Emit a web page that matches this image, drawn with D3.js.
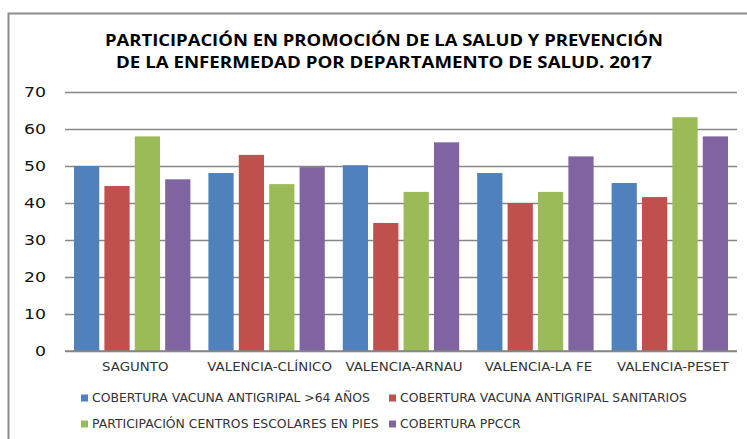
<!DOCTYPE html>
<html>
<head>
<meta charset="utf-8">
<script src="https://cdn.jsdelivr.net/npm/d3@7"></script>
<style>
  body { margin: 0; background: #fff; }
  svg { display: block; }
</style>
</head>
<body>
<script>
// data
var departamentos = ["SAGUNTO", "VALENCIA-CLÍNICO", "VALENCIA-ARNAU", "VALENCIA-LA FE", "VALENCIA-PESET"];
var series = [
  "COBERTURA VACUNA ANTIGRIPAL >64 AÑOS",
  "COBERTURA VACUNA ANTIGRIPAL SANITARIOS",
  "PARTICIPACIÓN CENTROS ESCOLARES EN PIES",
  "COBERTURA PPCCR"
];
var vacunaMayores = [50, 48.1, 50.2, 48.1, 45.4];
var vacunaSanitarios = [44.6, 53, 34.6, 40, 41.6];
var centrosPies = [58, 45.1, 43, 43, 63.2];
var ppccr = [46.4, 49.7, 56.4, 52.6, 58];
var yTicks = [0, 10, 20, 30, 40, 50, 60, 70];
var titulo = [
  "PARTICIPACIÓN EN PROMOCIÓN DE LA SALUD Y PREVENCIÓN",
  "DE LA ENFERMEDAD POR DEPARTAMENTO DE SALUD. 2017"
];

var colores = ["#4F81BD", "#C0504D", "#9BBB59", "#8064A2"];
var valores = [vacunaMayores, vacunaSanitarios, centrosPies, ppccr];

var width = 747, height = 439;
var svg = d3.select("body").append("svg").attr("width", width).attr("height", height);

//chart frame (cut off on right and bottom)
svg.append("rect").attr("x", 8.5).attr("y", 13.5).attr("width", 760).attr("height", 460)
  .style("fill", "none").style("stroke", "#8c8c8c").style("stroke-width", 2);

//title
svg.selectAll(".titulo").data(titulo).enter().append("text")
  .attr("class", "titulo")
  .attr("x", 384).attr("y", function(d, i) { return 46 + i * 22; })
  .attr("text-anchor", "middle")
  .attr("textLength", function(d, i) { return i == 0 ? 558 : 536; })
  .attr("lengthAdjust", "spacingAndGlyphs")
  .style("font-family", "'Open Sans', sans-serif").style("font-weight", "bold")
  .style("font-size", "15.5px").style("fill", "#000")
  .text(function(d) { return d; });

var x0 = d3.scaleBand().domain(departamentos).range([65, 737]).padding(0);
var x1 = d3.scaleBand().domain(series).range([9, x0.bandwidth() - 9]).paddingInner(0.17).paddingOuter(0);
var y = d3.scaleLinear().domain([0, 70]).range([351, 92]);

//grid lines
var yAxis = d3.axisLeft(y).tickValues(yTicks).tickSize(-(737 - 65)).tickPadding(19);
var gy = svg.append("g").attr("transform", "translate(65,0)").call(yAxis);
gy.select(".domain").remove();
gy.selectAll(".tick line").style("stroke", "#868686").style("stroke-width", 1.5);
gy.selectAll(".tick text")
  .style("font-family", "'DejaVu Sans', sans-serif").style("font-size", "14px").style("fill", "#111")
  .attr("textLength", function(d) { return String(d).length * 11; })
  .attr("lengthAdjust", "spacingAndGlyphs");

//bars
var grupos = svg.selectAll(".grupo").data(departamentos).enter().append("g")
  .attr("class", "grupo")
  .attr("transform", function(d) { return "translate(" + x0(d) + ",0)"; });

grupos.selectAll("rect").data(function(d, i) {
  return series.map(function(s, j) { return { serie: s, valor: valores[j][i], c: colores[j] }; });
}).enter().append("rect")
  .attr("x", function(d) { return x1(d.serie); })
  .attr("y", function(d) { return y(d.valor); })
  .attr("width", x1.bandwidth())
  .attr("height", function(d) { return y(0) - y(d.valor); })
  .style("fill", function(d) { return d.c; });

//zero line on top
svg.append("line").attr("x1", 65).attr("x2", 737).attr("y1", y(0)).attr("y2", y(0))
  .style("stroke", "#868686").style("stroke-width", 1.5);

//category labels, stretched a bit like the original
var xAxis = d3.axisBottom(x0).tickSize(0).tickPadding(12);
var gx = svg.append("g").attr("transform", "translate(3," + y(0) + ")").call(xAxis);
gx.select(".domain").remove();
gx.selectAll(".tick text")
  .style("font-family", "'DejaVu Sans', sans-serif").style("font-size", "11.5px").style("fill", "#333")
  .each(function() {
    var w = this.getComputedTextLength();
    d3.select(this).attr("textLength", w * 1.16).attr("lengthAdjust", "spacingAndGlyphs");
  });

//legend
var leyenda = svg.selectAll(".leyenda").data(series).enter().append("g")
  .attr("class", "leyenda")
  .attr("transform", function(d, i) {
    return "translate(" + (i % 2 == 0 ? 81 : 389) + "," + (i < 2 ? 398 : 424) + ")";
  });
leyenda.append("rect").attr("x", 0).attr("y", -3.5).attr("width", 7).attr("height", 7)
  .style("fill", function(d, i) { return colores[i]; });
leyenda.append("text").attr("x", 11).attr("y", 0).attr("dy", "0.35em")
  .style("font-family", "'DejaVu Sans', sans-serif").style("font-size", "11.5px").style("fill", "#333")
  .text(function(d) { return d; })
  .each(function() {
    var w = this.getComputedTextLength();
    d3.select(this).attr("textLength", w * 1.08).attr("lengthAdjust", "spacingAndGlyphs");
  });
</script>
</body>
</html>
